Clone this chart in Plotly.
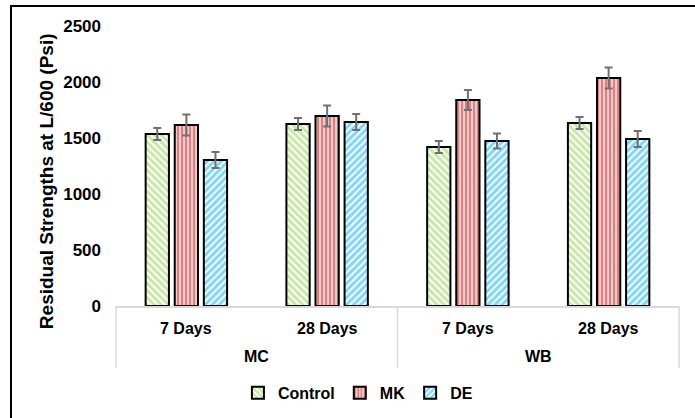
import plotly.graph_objects as go

groups = ["MC", "MC", "WB", "WB"]
ages = ["7 Days", "28 Days", "7 Days", "28 Days"]
group_labels = ["MC", "WB"]

control = [1536, 1625, 1420, 1634]
mk = [1616, 1696, 1839, 2036]
de = [1304, 1643, 1473, 1491]

control_err = [54, 54, 54, 54]
mk_err = [94, 94, 90, 94]
de_err = [71, 71, 67, 71]

y_ticks = [0, 500, 1000, 1500, 2000, 2500]
y_title = "Residual Strengths at L/600 (Psi)"

series = [
    ("Control", control, control_err, "#92D050", "\\", 5, 0.6),
    ("MK", mk, mk_err, "#C00000", "|", 4, 0.7),
    ("DE", de, de_err, "#00B0F0", "/", 5, 0.6),
]

FONT = "Liberation Sans, Arial, sans-serif"
GRID = "#D9D9D9"

fig = go.Figure()
for name, vals, errs, col, shape, size, sol in series:
    fig.add_trace(go.Bar(
        name=name,
        x=[groups, ages],
        y=vals,
        marker=dict(
            color="white",
            line=dict(color="black", width=2),
            pattern=dict(shape=shape, fgcolor=col, bgcolor="white",
                         size=size, solidity=sol, fillmode="overlay"),
        ),
        error_y=dict(type="data", array=errs, visible=True,
                     color="#707070", thickness=2, width=4),
    ))

annotations = []
n = len(ages)
for i, lab in enumerate(ages):
    annotations.append(dict(
        text=lab, xref="paper", yref="paper", x=(i + 0.5) / n, y=-0.0786,
        xanchor="center", yanchor="middle", showarrow=False,
        font=dict(family=FONT, size=16, color="black", weight="bold")))
ng = len(group_labels)
for j, lab in enumerate(group_labels):
    annotations.append(dict(
        text=lab, xref="paper", yref="paper", x=(j + 0.5) / ng, y=-0.182,
        xanchor="center", yanchor="middle", showarrow=False,
        font=dict(family=FONT, size=16, color="black", weight="bold")))
annotations.append(dict(
    text=y_title, xref="paper", yref="paper", x=-0.1243, y=0.446,
    xanchor="center", yanchor="middle", showarrow=False, textangle=-90,
    font=dict(family=FONT, size=19, color="black", weight="bold")))

shapes = []
for k in range(ng + 1):
    shapes.append(dict(type="line", xref="paper", yref="paper",
                       x0=k / ng, x1=k / ng, y0=0, y1=-0.221,
                       line=dict(color=GRID, width=1.5)))
shapes.append(dict(type="rect", xref="paper", yref="paper",
                   x0=-0.1865, x1=1.2, y0=-0.6, y1=1.0714,
                   line=dict(color="black", width=2), layer="above"))

fig.update_layout(
    width=695, height=418,
    margin=dict(l=116, r=16, t=26, b=112, autoexpand=False),
    paper_bgcolor="white", plot_bgcolor="white",
    font=dict(family=FONT, size=16, color="black", weight="bold"),
    barmode="group",
    bargap=0.38, bargroupgap=0.2,
    showlegend=True,
    legend=dict(orientation="h", xref="container", yref="container",
                x=0.515, xanchor="center", y=0.06, yanchor="middle",
                font=dict(size=16, weight="bold"),
                itemwidth=30, tracegroupgap=0),
    xaxis=dict(
        type="multicategory",
        showline=True, linecolor=GRID, linewidth=1.5,
        showdividers=False, showticklabels=False,
        ticks="",
    ),
    yaxis=dict(
        range=[0, 2500],
        tickvals=y_ticks,
        showgrid=False, zeroline=False, showline=False,
        tickfont=dict(size=17, weight="bold"),
        ticks="", ticklen=0, ticklabelstandoff=14,
    ),
    annotations=annotations,
    shapes=shapes,
)

fig.write_html("out.html")
